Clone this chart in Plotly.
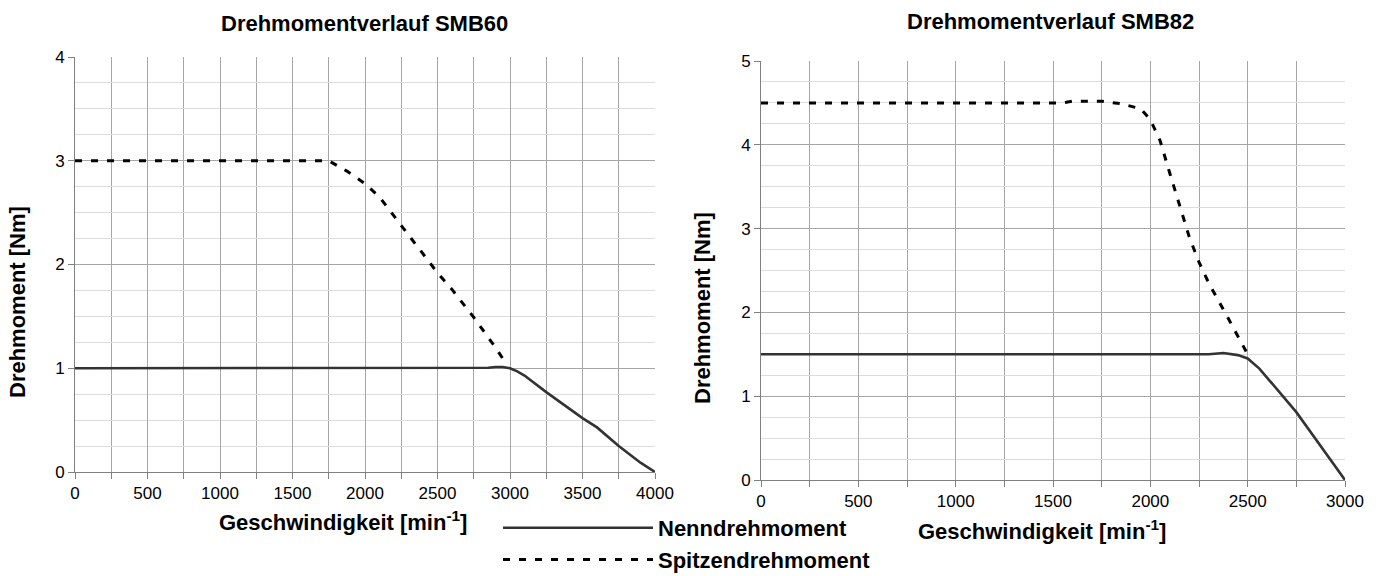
import plotly.graph_objects as go

# ---- data ----
speed_nenn_60 = [0, 2800, 2850, 2900, 2950, 3000, 3050, 3100, 3250, 3500, 3600, 3750, 3900, 4000]
torque_nenn_60 = [1.0, 1.0, 1.005, 1.012, 1.012, 1.0, 0.97, 0.93, 0.77, 0.52, 0.43, 0.25, 0.09, 0.0]
speed_spitze_60 = [0, 1750, 1875, 2000, 2100, 2250, 2400, 2500, 2600, 2750, 2900, 2980]
torque_spitze_60 = [3.0, 3.0, 2.9, 2.78, 2.65, 2.38, 2.1, 1.92, 1.76, 1.49, 1.2, 1.03]

speed_nenn_82 = [0, 2300, 2375, 2450, 2500, 2560, 2750, 3000]
torque_nenn_82 = [1.5, 1.5, 1.515, 1.49, 1.45, 1.33, 0.81, 0.0]
speed_spitze_82 = [0, 1550, 1600, 1750, 1850, 1950, 2000, 2050, 2100, 2150, 2200, 2250, 2300, 2400, 2500]
torque_spitze_82 = [4.5, 4.5, 4.52, 4.52, 4.49, 4.43, 4.3, 4.05, 3.66, 3.27, 2.9, 2.6, 2.35, 1.93, 1.5]

title_60 = "Drehmomentverlauf SMB60"
title_82 = "Drehmomentverlauf SMB82"
x_title = "Geschwindigkeit [min<sup>-1</sup>]"
y_title = "Drehmoment [Nm]"
name_nenn = "Nenndrehmoment"
name_spitze = "Spitzendrehmoment"

FONT = "Liberation Sans, Arial, sans-serif"
W, H = 1376, 576
SOLID_COLOR = "#333333"
DASH_COLOR = "#000000"
DASH = "7px,9px"

fig = go.Figure()
fig.add_trace(go.Scatter(x=speed_nenn_60, y=torque_nenn_60, mode="lines", name=name_nenn,
                         line=dict(color=SOLID_COLOR, width=2.6), xaxis="x", yaxis="y", showlegend=True))
fig.add_trace(go.Scatter(x=speed_spitze_60, y=torque_spitze_60, mode="lines", name=name_spitze,
                         line=dict(color=DASH_COLOR, width=3, dash=DASH), xaxis="x", yaxis="y", showlegend=True))
fig.add_trace(go.Scatter(x=speed_nenn_82, y=torque_nenn_82, mode="lines", name=name_nenn,
                         line=dict(color=SOLID_COLOR, width=2.6), xaxis="x2", yaxis="y2", showlegend=False))
fig.add_trace(go.Scatter(x=speed_spitze_82, y=torque_spitze_82, mode="lines", name=name_spitze,
                         line=dict(color=DASH_COLOR, width=3, dash=DASH), xaxis="x2", yaxis="y2", showlegend=False))

def px_x(p):
    return p / W

def px_y(p):
    return 1 - p / H

GRID = "#a6a6a6"
MINOR_GRID = "#dcdcdc"
AXIS = "#808080"
tickfont = dict(family=FONT, size=17, color="#000000")

def xaxis(dom, rng, anchor):
    return dict(domain=dom, range=rng, anchor=anchor, dtick=500, tick0=0,
                ticks="outside", ticklen=6, tickcolor=AXIS, showgrid=True, gridcolor=GRID,
                showline=True, linecolor=AXIS, linewidth=1, zeroline=False, tickfont=tickfont,
                minor=dict(dtick=250, tick0=0, ticks="outside", ticklen=6, tickcolor=AXIS,
                           showgrid=True, gridcolor=GRID),
                fixedrange=True)

def yaxis(dom, rng, anchor):
    return dict(domain=dom, range=rng, anchor=anchor, dtick=1, tick0=0,
                ticks="outside", ticklen=6, tickcolor=AXIS, showgrid=True, gridcolor=GRID,
                showline=True, linecolor=AXIS, linewidth=1, zeroline=False, tickfont=tickfont,
                minor=dict(dtick=0.25, tick0=0, showgrid=True, gridcolor=MINOR_GRID),
                fixedrange=True)

fig.update_layout(
    width=W, height=H,
    margin=dict(l=0, r=0, t=0, b=0, autoexpand=False),
    paper_bgcolor="white", plot_bgcolor="white",
    font=dict(family=FONT, color="#000000"),
    xaxis=xaxis([px_x(75), px_x(655)], [0, 4000], "y"),
    yaxis=yaxis([px_y(472), px_y(57)], [0, 4], "x"),
    xaxis2=xaxis([px_x(761), px_x(1345)], [0, 3000], "y2"),
    yaxis2=yaxis([px_y(480), px_y(61)], [0, 5], "x2"),
    showlegend=True,
    legend=dict(x=px_x(498), y=px_y(507), xanchor="left", yanchor="top",
                font=dict(family=FONT, size=22, color="#000000", weight="bold"),
                itemwidth=150, tracegroupgap=0, bgcolor="rgba(0,0,0,0)"),
)

def ann(text, x, y, size=22, angle=0):
    return dict(text="<b>" + text + "</b>", x=px_x(x), y=px_y(y), xref="paper", yref="paper",
                showarrow=False, xanchor="center", yanchor="middle", textangle=angle,
                font=dict(family=FONT, size=size, color="#000000"))

fig.update_layout(annotations=[
    ann(title_60, 364, 24),
    ann(title_82, 1050, 22),
    ann(x_title, 343, 521),
    ann(x_title, 1042, 530),
    ann(y_title, 17, 302, angle=-90),
    ann(y_title, 702, 308, angle=-90),
])

fig.write_html("out.html", post_script="document.body.style.margin='0';",
               config={"displayModeBar": False})
